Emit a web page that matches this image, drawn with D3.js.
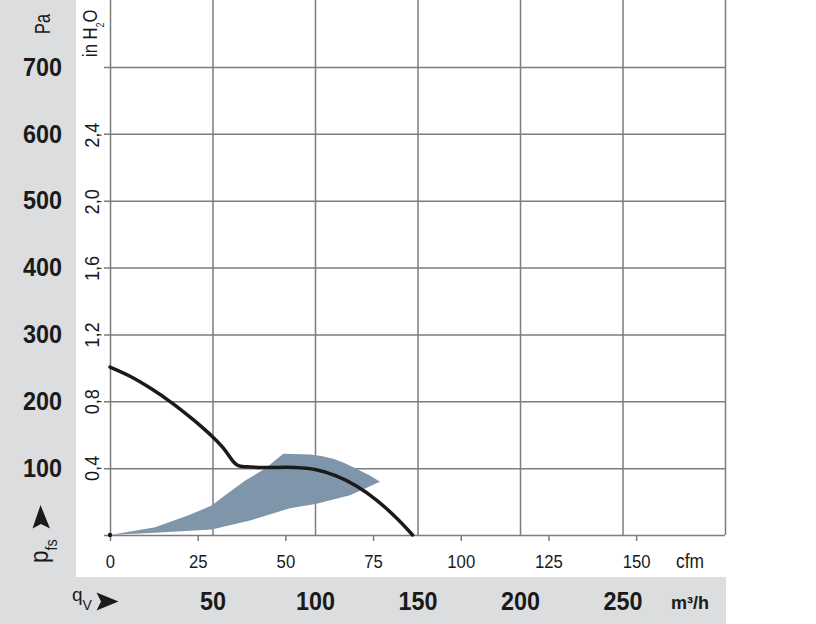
<!DOCTYPE html>
<html lang="en">
<head>
<meta charset="UTF-8">
<title>Fan characteristic curve</title>
<style>
  body { margin: 0; background: #fff; }
  svg { display: block; }
  /* Helvetica-like face; narrowed per label with textLength / scale */
  text { font-family: "Liberation Sans", Arial, sans-serif; fill: #1a1a1a; }
  .grid line { stroke: #7d7d7d; stroke-width: 1.5; }
  .grid path { display: none; }
</style>
</head>
<body>
<div id="chart"></div>
<script src="https://d3js.org/d3.v7.min.js"></script>
<script>
// --- data (flow in m³/h, pressure in Pa) ---
const curveFlow = [0, 10, 20, 30, 40, 45, 50, 55.3, 60.1, 62.6, 66.7, 75.6, 90, 100, 110, 120, 130, 140, 147.6];
const curvePa   = [251, 237, 219, 198, 174, 161, 147, 130, 110, 103.6, 102, 101, 101, 98, 88.9, 73.7, 52.3, 24.7, 0];

// shaded operating range: upper edge left->right, lower edge right->left
const zoneUpperFlow = [0, 22, 38, 49.6, 56, 66, 75.6, 84.5, 97.6, 103, 108.9, 114, 118.7, 126.8, 131.7];
const zoneUpperPa   = [0, 11.7, 29, 44, 59, 81.5, 99, 121.4, 120.3, 118, 113.9, 108, 101.3, 88.9, 79.5];
const zoneLowerFlow = [117.1, 100.8, 87.8, 68.3, 49.6, 22, 0];
const zoneLowerPa   = [59.5, 46.6, 40, 21.7, 8.2, 3.3, 0];

const paTicks     = [100, 200, 300, 400, 500, 600, 700];
const paGrid      = [0, 100, 200, 300, 400, 500, 600, 700];
const inH2OTicks  = [0.4, 0.8, 1.2, 1.6, 2.0, 2.4];
const flowGrid    = [0, 50, 100, 150, 200, 250, 300];
const m3hTicks    = [50, 100, 150, 200, 250];
const cfmTicks    = [0, 25, 50, 75, 100, 125, 150];

const PA_PER_INH2O = 249.09;
const M3H_PER_CFM = 1.711;

const width = 816, height = 624;

const svg = d3.select("#chart").append("svg")
    .attr("width", width)
    .attr("height", height);

// scales
const x = d3.scaleLinear().domain([0, 300]).range([110, 725]);
const xCfm = d3.scaleLinear().domain([0, 300 / M3H_PER_CFM]).range([110, 725]);
const y = d3.scaleLinear().domain([0, 800]).range([535, 0]);

// squeeze a label to a condensed width
function narrow(sel, perChar) {
    sel.attr("textLength", function() { return this.textContent.length * perChar; })
       .attr("lengthAdjust", "spacingAndGlyphs");
}

// grey side and bottom bands
svg.append("rect").attr("x", 0).attr("y", 0).attr("width", 76).attr("height", 577).attr("fill", "#dcdddf");
svg.append("rect").attr("x", 0).attr("y", 577).attr("width", 726).attr("height", 47).attr("fill", "#dcdddf");

// grid
svg.append("g").attr("class", "grid")
    .attr("transform", "translate(104,0)")
    .call(d3.axisLeft(y).tickValues(paGrid).tickSize(-(725 - 104)).tickFormat(""));

svg.append("g").attr("class", "grid")
    .attr("transform", "translate(0,535)")
    .call(d3.axisBottom(x).tickValues(flowGrid).tickSize(-535).tickFormat(""));

// cfm axis: baseline, small ticks below and labels
const cfmAxis = svg.append("g").attr("class", "grid cfm")
    .attr("transform", "translate(0,535)")
    .call(d3.axisBottom(xCfm).tickValues(cfmTicks).tickSize(6));
cfmAxis.select(".domain").style("display", null).attr("fill", "none").attr("stroke", "#7d7d7d").attr("stroke-width", 1.5);
cfmAxis.selectAll("text")
    .attr("y", 33).attr("dy", 0)
    .attr("font-size", 19)
    .call(narrow, 9.3);

svg.append("text")
    .attr("x", 690).attr("y", 568)
    .attr("text-anchor", "middle")
    .attr("font-size", 20)
    .attr("textLength", 28).attr("lengthAdjust", "spacingAndGlyphs")
    .text("cfm");

// shaded zone
const zonePts = zoneUpperFlow.map((f, i) => [f, zoneUpperPa[i]])
    .concat(zoneLowerFlow.map((f, i) => [f, zoneLowerPa[i]]));
svg.append("path")
    .datum(zonePts)
    .attr("d", d3.line().x(d => x(d[0])).y(d => y(d[1])).curve(d3.curveLinearClosed))
    .attr("fill", "#7f96aa");

// fan curve
const curvePts = curveFlow.map((f, i) => [f, curvePa[i]]);
svg.append("path")
    .datum(curvePts)
    .attr("d", d3.line().x(d => x(d[0])).y(d => y(d[1])).curve(d3.curveCatmullRom.alpha(0.5)))
    .attr("fill", "none")
    .attr("stroke", "#1a1a1a")
    .attr("stroke-width", 3.5)
    .attr("stroke-linecap", "round");

svg.append("circle")
    .attr("cx", x(0)).attr("cy", y(0)).attr("r", 2.2)
    .attr("fill", "#1a1a1a");

// Pa labels in the grey band
const paAxis = svg.append("g")
    .attr("transform", "translate(62,0)")
    .call(d3.axisLeft(y).tickValues(paTicks).tickSize(0).tickPadding(0));
paAxis.select(".domain").remove();
paAxis.selectAll("text")
    .attr("font-size", 26)
    .attr("font-weight", "bold")
    .attr("fill", "#1a1a1a")
    .call(narrow, 13);

svg.append("text")
    .attr("transform", "translate(50,24) rotate(-90)")
    .attr("text-anchor", "middle")
    .attr("font-size", 22)
    .attr("textLength", 20).attr("lengthAdjust", "spacingAndGlyphs")
    .text("Pa");

// inch H2O labels, rotated
const commaFmt = d3.formatLocale({ decimal: ",", thousands: ".", grouping: [3], currency: ["", ""] }).format(".1f");
svg.append("g").selectAll("text")
    .data(inH2OTicks)
    .join("text")
    .attr("transform", d => `translate(99,${y(d * PA_PER_INH2O)}) rotate(-90)`)
    .attr("text-anchor", "middle")
    .attr("font-size", 20)
    .text(d => commaFmt(d))
    .call(narrow, 8.4);

const inLabel = svg.append("text")
    .attr("transform", "translate(97,57) rotate(-90) scale(0.83,1)")
    .attr("font-size", 20);
inLabel.append("tspan").text("in H");
inLabel.append("tspan").attr("font-size", 11).attr("dy", 7).text("2");
inLabel.append("tspan").attr("dy", -7).text("O");

// m³/h labels in the bottom band
const m3hAxis = svg.append("g")
    .attr("transform", "translate(0,610)")
    .call(d3.axisBottom(x).tickValues(m3hTicks).tickSize(0).tickPadding(0));
m3hAxis.select(".domain").remove();
m3hAxis.selectAll("text")
    .attr("y", 0).attr("dy", 0)
    .attr("font-size", 26)
    .attr("font-weight", "bold")
    .attr("fill", "#1a1a1a")
    .call(narrow, 13);

svg.append("text")
    .attr("x", 690).attr("y", 609)
    .attr("text-anchor", "middle")
    .attr("font-size", 18)
    .attr("font-weight", "bold")
    .text("m³/h");

// p_fs with up arrow
const pLabel = svg.append("text")
    .attr("transform", "translate(48,563) rotate(-90) scale(0.9,1)")
    .attr("font-size", 25);
pLabel.append("tspan").text("p");
pLabel.append("tspan").attr("font-size", 16).attr("dy", 9).text("fs");

svg.append("path")
    .attr("d", "M40.5,505 L50,528.5 L41,524 L32.5,528.5 Z")
    .attr("fill", "#1a1a1a");

// q_V with right arrow
const qLabel = svg.append("text")
    .attr("x", 72).attr("y", 601)
    .attr("font-size", 19);
qLabel.append("tspan").text("q");
qLabel.append("tspan").attr("font-size", 14).attr("dy", 9).text("V");

svg.append("path")
    .attr("d", "M118.5,601.5 L96.5,592.5 L101,601.5 L96.5,610.5 Z")
    .attr("fill", "#1a1a1a");
</script>
</body>
</html>
